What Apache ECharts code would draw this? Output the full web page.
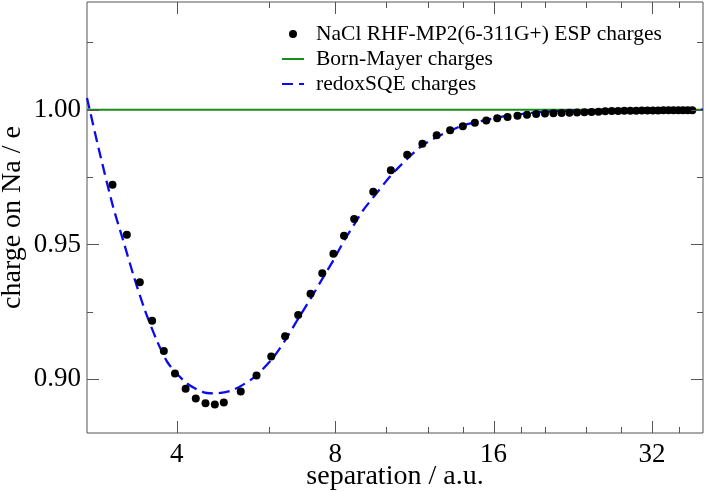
<!DOCTYPE html>
<html><head><meta charset="utf-8">
<script src="https://cdn.jsdelivr.net/npm/echarts@6/dist/echarts.min.js"></script>
<style>html,body{margin:0;padding:0;background:#fff}#c{width:706px;height:492px}</style>
</head><body><div id="c"></div>
<script>
// ESP charges (separation in bohr, charge on Na)
const espX = [3.019, 3.214, 3.402, 3.590, 3.779, 3.968, 4.157, 4.346, 4.535, 4.724, 4.913, 5.291, 5.669,
  6.047, 6.425, 6.803, 7.181, 7.559, 7.937, 8.315, 8.693, 9.449, 10.205, 10.961, 11.716, 12.472, 13.228,
  13.984, 14.740, 15.496, 16.252, 17.008, 17.763, 18.519, 19.275, 20.031, 20.787, 21.543, 22.299, 23.054,
  23.810, 24.566, 25.322, 26.078, 26.834, 27.590, 28.346, 29.101, 29.857, 30.613, 31.369, 32.125, 32.881,
  33.637, 34.392, 35.148, 35.904, 36.660, 37.416, 38.172];
const espY = [0.9722, 0.9536, 0.9360, 0.9217, 0.9104, 0.9021, 0.8964, 0.8928, 0.8910, 0.8906, 0.8913, 0.8954, 0.9013,
  0.9084, 0.9159, 0.9238, 0.9317, 0.9393, 0.9465, 0.9532, 0.9594, 0.9696, 0.9775, 0.9833, 0.9874, 0.9905, 0.9924,
  0.9939, 0.9952, 0.9960, 0.9968, 0.9973, 0.9978, 0.9981, 0.9984, 0.9986, 0.9987, 0.9988, 0.9989, 0.9990,
  0.9991, 0.9992, 0.9993, 0.9994, 0.9995, 0.9995, 0.9996, 0.9996, 0.9996, 0.9997, 0.9997, 0.9997, 0.9997,
  0.9998, 0.9998, 0.9998, 0.9998, 0.9998, 0.9998, 0.9998];
// redoxSQE curve
const sqeX = [2.70, 2.847, 3.027, 3.162, 3.315, 3.477, 3.660, 3.851, 4.173, 4.488, 4.724, 5.118, 5.586,
  6.053, 6.435, 6.81, 7.19, 7.57, 7.95, 8.33, 8.70, 9.04, 9.46, 10.22, 10.98, 11.72, 12.49, 13.25, 13.99,
  15.28, 17.17, 19.58, 22.33, 25.46, 31.6, 40];
const sqeY = [1.0044, 0.9849, 0.9639, 0.9516, 0.9380, 0.9257, 0.9146, 0.9059, 0.8985, 0.8952, 0.8947, 0.8960, 0.9004,
  0.9072, 0.9146, 0.9226, 0.9300, 0.9374, 0.9444, 0.9516, 0.9575, 0.9627, 0.9676, 0.9757, 0.9819, 0.9868, 0.9899, 0.9923, 0.9942,
  0.9960, 0.9979, 0.9991, 0.9997, 0.9999, 1.0000, 1.0000];
// Born-Mayer charges
const bmX = [2.7, 40];
const bmY = [1.0, 1.0];
// ticks
const xMajorTicks = [4, 8, 16, 32];
const xMinorTicks = [6, 10, 12, 14, 18, 20, 24, 28, 36];
const yMajorTicks = [0.90, 0.95, 1.00];
const yMinorTicks = [0.925, 0.975, 1.025];
const X_MIN = 2.7, X_MAX = 40, Y_MIN = 0.88, Y_MAX = 1.04;

const FONT = 'Liberation Serif';
const NAMES = ['NaCl RHF-MP2(6-311G+) ESP charges', 'Born-Mayer charges', 'redoxSQE charges'];
const zip = (a, b) => a.map((v, i) => [v, b[i]]);

const tickData = [];
xMajorTicks.forEach(v => tickData.push([v, Y_MIN, 0, 12]));
xMinorTicks.forEach(v => tickData.push([v, Y_MIN, 0, 6]));
yMajorTicks.forEach(v => tickData.push([X_MIN, v, 1, 12]));
yMinorTicks.forEach(v => tickData.push([X_MIN, v, 1, 6]));

function renderTick(params, api) {
  const v0 = api.value(0), v1 = api.value(1), dir = api.value(2), L = api.value(3);
  const style = { stroke: '#555', lineWidth: 1 };
  if (dir === 0) {
    const p = api.coord([v0, Y_MIN]), q = api.coord([v0, Y_MAX]);
    const x = Math.round(p[0]) + 0.5;
    return { type: 'group', children: [
      { type: 'line', shape: { x1: x, y1: p[1], x2: x, y2: p[1] - L }, style },
      { type: 'line', shape: { x1: x, y1: q[1], x2: x, y2: q[1] + L }, style }] };
  } else {
    const p = api.coord([X_MIN, v1]), q = api.coord([X_MAX, v1]);
    const y = Math.round(p[1]) + 0.5;
    return { type: 'group', children: [
      { type: 'line', shape: { x1: p[0], y1: y, x2: p[0] + L, y2: y }, style },
      { type: 'line', shape: { x1: q[0], y1: y, x2: q[0] - L, y2: y }, style }] };
  }
}

const chart = echarts.init(document.getElementById('c'), null, { renderer: 'canvas' });
chart.setOption({
  animation: false,
  backgroundColor: '#fff',
  textStyle: { fontFamily: FONT },
  grid: { left: 87, right: 3, top: 2, bottom: 59, show: true, borderColor: '#555', borderWidth: 1,
          containLabel: false, outerBoundsMode: 'none' },
  legend: {
    data: [
      { name: NAMES[0] },
      { name: NAMES[1], itemStyle: { opacity: 0 } },
      { name: NAMES[2], itemStyle: { opacity: 0 } }
    ],
    orient: 'vertical', left: 276, top: 18, itemWidth: 22, itemHeight: 8, itemGap: 3,
    textStyle: { fontFamily: FONT, fontSize: 21.5, color: '#000', lineHeight: 21, padding: [0, 0, 0, 7] },
    selectedMode: false
  },
  xAxis: {
    type: 'log', logBase: 2, min: X_MIN, max: X_MAX,
    name: 'separation / a.u.', nameLocation: 'middle', nameGap: 30, nameMoveOverlap: false,
    nameTextStyle: { fontFamily: FONT, fontSize: 28, color: '#000' },
    axisLine: { show: false }, axisTick: { show: false }, splitLine: { show: false }, minorTick: { show: false },
    axisLabel: { fontFamily: FONT, fontSize: 27, color: '#000', margin: 8, hideOverlap: false,
      formatter: v => { const l = Math.log2(v); return Math.abs(l - Math.round(l)) < 1e-6 ? String(Math.round(v)) : ''; } }
  },
  yAxis: {
    type: 'value', min: Y_MIN, max: Y_MAX, interval: 0.01,
    name: 'charge on Na / e', nameLocation: 'middle', nameGap: 60, nameMoveOverlap: false,
    nameTextStyle: { fontFamily: FONT, fontSize: 28, color: '#000' },
    axisLine: { show: false }, axisTick: { show: false }, splitLine: { show: false },
    axisLabel: { fontFamily: FONT, fontSize: 27, color: '#000', margin: 6, hideOverlap: false,
      formatter: v => { const k = Math.round(v * 100); return (Math.abs(v * 100 - k) < 1e-6 && k % 5 === 0) ? (k / 100).toFixed(2) : ''; } }
  },
  series: [
    { name: NAMES[1], type: 'line', data: zip(bmX, bmY), showSymbol: false, symbol: 'none', z: 2,
      lineStyle: { color: '#1a8c1a', width: 2 }, itemStyle: { color: '#1a8c1a' } },
    { name: NAMES[2], type: 'line', data: zip(sqeX, sqeY), showSymbol: false, symbol: 'none', z: 3,
      smooth: 0.25,
      lineStyle: { color: '#0b0bf0', width: 2.3, type: [11, 6] }, itemStyle: { color: '#0b0bf0' } },
    { name: NAMES[0], type: 'scatter', data: zip(espX, espY), symbol: 'circle', symbolSize: 8, z: 4,
      itemStyle: { color: '#000', opacity: 1 } },
    { type: 'custom', data: tickData, renderItem: renderTick, encode: { x: 0, y: 1 }, silent: true, clip: false, z: 5 }
  ]
});
</script>
</body></html>
